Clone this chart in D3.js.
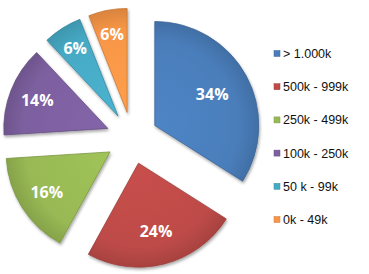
<!DOCTYPE html>
<html>
<head>
<meta charset="utf-8">
<script src="https://cdn.jsdelivr.net/npm/d3@7"></script>
<style>
body { margin: 0; background: #fff; }
svg { display: block; }
.label { font-family: "Open Sans", sans-serif; font-weight: bold; font-size: 16px; fill: #fff; }
.legend text { font-family: "Liberation Sans", Arial, sans-serif; font-size: 12.5px; fill: #111; }
</style>
</head>
<body>
<svg width="369" height="274"></svg>
<script>
const width = 369
const height = 274

// data
const categories = ["> 1.000k", "500k - 999k", "250k - 499k", "100k - 250k", "50 k - 99k", "0k - 49k"]
const values = [34, 24, 16, 14, 6, 6]
const colors = ["#4a7ebb", "#be4b48", "#98b954", "#7d60a0", "#46aac5", "#f79646"]

const cx = 132, cy = 138
const radius = 104
const explode = 26

const data = categories.map(function (c, i) { return { name: c, value: values[i], color: colors[i] } })

const pie = d3.pie().sort(null).value(function (d) { return d.value })
const arc = d3.arc().innerRadius(0).outerRadius(radius)
const total = d3.sum(values)

const svg = d3.select("svg")
const defs = svg.append("defs")

const shadow = defs.append("filter").attr("id", "shadow")
  .attr("x", "-20%").attr("y", "-20%").attr("width", "140%").attr("height", "140%")
shadow.append("feGaussianBlur").attr("in", "SourceAlpha").attr("stdDeviation", 1.5)
shadow.append("feOffset").attr("dx", 1).attr("dy", 2).attr("result", "blur")
shadow.append("feComponentTransfer").append("feFuncA").attr("type", "linear").attr("slope", 0.35)
const merge = shadow.append("feMerge")
merge.append("feMergeNode")
merge.append("feMergeNode").attr("in", "SourceGraphic")

// gradient per slice, lighter in the middle and darker toward the rim
data.forEach(function (d, i) {
  const g = defs.append("radialGradient").attr("id", "grad" + i)
    .attr("gradientUnits", "userSpaceOnUse")
    .attr("cx", 0).attr("cy", 0).attr("r", radius)
  const c = d3.color(d.color)
  g.append("stop").attr("offset", "0%").attr("stop-color", c.brighter(0.15))
  g.append("stop").attr("offset", "80%").attr("stop-color", c)
  g.append("stop").attr("offset", "100%").attr("stop-color", c.darker(0.35))
})

const arcs = pie(data)

const slices = svg.append("g")
  .attr("transform", "translate(" + cx + "," + cy + ")")
  .selectAll("g.slice")
  .data(arcs)
  .enter()
  .append("g")
  .attr("class", "slice")
  .attr("transform", function (d) {
    const a = (d.startAngle + d.endAngle) / 2
    return "translate(" + (Math.sin(a) * explode) + "," + (-Math.cos(a) * explode) + ")"
  })

slices.append("path")
  .attr("d", arc)
  .attr("fill", function (d, i) { return "url(#grad" + i + ")" })
  .attr("stroke", function (d) { return d3.color(d.data.color).darker(0.6) })
  .attr("stroke-width", 0.8)
  .attr("filter", "url(#shadow)")

// narrow slices carry their label further out, like Excel does
slices.append("text")
  .attr("class", "label")
  .attr("transform", function (d) {
    const a = (d.startAngle + d.endAngle) / 2
    const r = radius * (0.8 - 0.5 * d.value / total)
    return "translate(" + (Math.sin(a) * r) + "," + (-Math.cos(a) * r) + ")"
  })
  .attr("text-anchor", "middle")
  .attr("dy", "0.36em")
  .text(function (d) { return d.data.value + "%" })

// legend
const legend = svg.append("g").attr("class", "legend")
const rows = legend.selectAll("g")
  .data(data)
  .enter()
  .append("g")
  .attr("transform", function (d, i) { return "translate(274," + (53.5 + i * 33.2) + ")" })

rows.append("rect")
  .attr("x", 0).attr("y", -3).attr("width", 6).attr("height", 6)
  .attr("fill", function (d) { return d.color })
  .attr("stroke", function (d) { return d3.color(d.color).darker(0.5) })
  .attr("stroke-width", 0.5)

rows.append("text")
  .attr("x", 9)
  .attr("dy", "0.36em")
  .text(function (d) { return d.name })
</script>
</body>
</html>
